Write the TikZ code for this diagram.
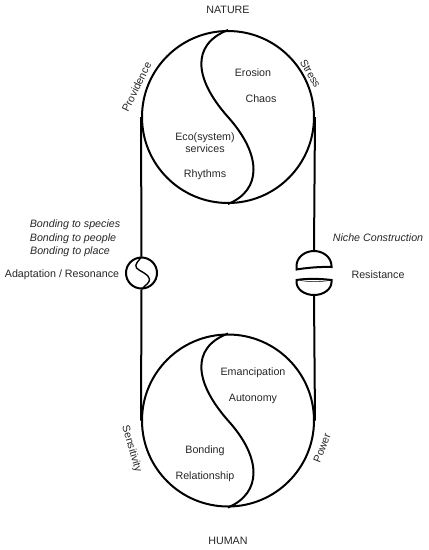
\documentclass[tikz,border=0pt]{standalone}
\usepackage{fontspec}
\setmainfont{Liberation Sans}
\begin{document}
\begin{tikzpicture}[x=1pt,y=-1pt,
  lw/.style={line width=2pt},
  big/.style={circle,draw,lw,minimum size=172pt,inner sep=0pt},
  small/.style={circle,draw,lw,minimum size=31pt,inner sep=0pt},
  lbl/.style={font=\fontsize{10.7}{12}\selectfont,text=black!85,inner sep=0pt},
  ilbl/.style={lbl,font=\fontsize{10.7}{12}\selectfont\itshape}]
\useasboundingbox (0,0) rectangle (429,550);
% circles
\node[big] (top) at (228,117) {};
\node[big] (bot) at (228,420.5) {};
\node[small] (sm) at (141.5,273) {};
% S curves
\draw[lw] (top.north) .. controls (190,45) and (195,80) .. (top.center)
  .. controls (262,155) and (262,190) .. (top.south);
\draw[lw] (bot.north) .. controls (190,348) and (195,383) .. (bot.center)
  .. controls (262,458) and (262,493) .. (bot.south);
\draw[line width=1.4pt] (sm.north) .. controls (139,261) and (134,264) .. (136.5,268)
  .. controls (139,271) and (149,274) .. (149.5,279)
  .. controls (150,283) and (145,285) .. (sm.south);
% domes
\coordinate (d1) at (314,251);
\coordinate (d2) at (314,295);
\draw[lw] (296.5,269.5) -- (296.5,266) arc[start angle=-180,end angle=0,x radius=17.5,y radius=15]
  -- (331.5,267) .. controls (320,266.5) and (305,268) .. cycle;
\draw[lw] (296.5,280) .. controls (305,278.5) and (320,278.5) .. (331.5,280)
  -- (331.5,282) arc[start angle=0,end angle=180,x radius=17.5,y radius=13] -- cycle;
\draw[line width=0.5pt] (300,280.5) .. controls (310,282) and (320,282) .. (329,280.5);
% connectors
\draw[lw] (top.west) -- (sm.north);
\draw[lw] (sm.south) -- (bot.west);
\draw[lw] (top.east) -- (d1);
\draw[lw] (d2) -- (bot.east);
% labels
\node[lbl] (nature) at (228,10) {NATURE};
\node[lbl] (human) at (228,541) {HUMAN};
\node[lbl,rotate=64] (prov) at (136.5,87) {Providence};
\node[lbl,rotate=-60] (stress) at (310.5,73.5) {Stress};
\node[lbl,rotate=-74] (sens) at (131.5,449) {Sensitivity};
\node[lbl,rotate=69] (power) at (322,448) {Power};
\node[lbl] (eros) at (253,73) {Erosion};
\node[lbl] (chaos) at (261,99) {Chaos};
\node[lbl,align=center] (eco) at (205,143) {Eco(system)\\services};
\node[lbl] (rhy) at (205,175) {Rhythms};
\node[lbl] (eman) at (253,373) {Emancipation};
\node[lbl] (auto) at (253,399) {Autonomy};
\node[lbl] (bond) at (205,451) {Bonding};
\node[lbl] (rel) at (205,477) {Relationship};
\node[ilbl] (bs) at (75,225) {Bonding to species};
\node[ilbl] (bp) at (73,238.5) {Bonding to people};
\node[ilbl] (bpl) at (70,252) {Bonding to place};
\node[lbl] (adapt) at (62,275) {Adaptation / Resonance};
\node[ilbl] (niche) at (378,238) {Niche Construction};
\node[lbl] (resist) at (378,275) {Resistance};
\end{tikzpicture}
\end{document}
